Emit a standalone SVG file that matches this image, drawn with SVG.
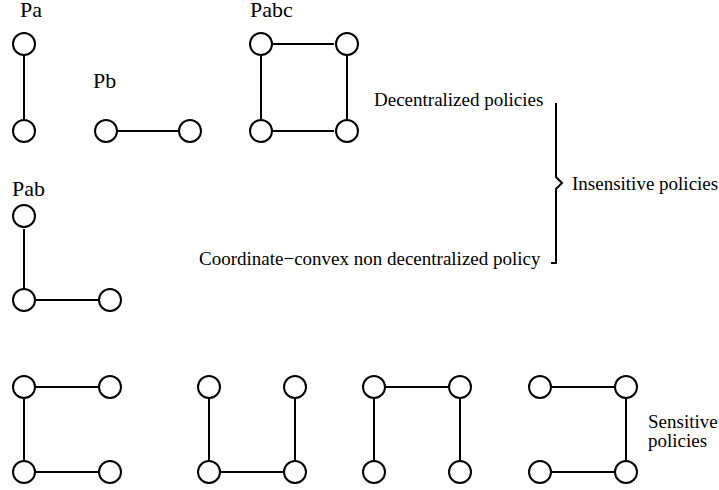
<svg xmlns="http://www.w3.org/2000/svg" width="719" height="490" viewBox="0 0 719 490">
<style>
.n{fill:#fff;stroke:#000;stroke-width:2}
.e{stroke:#000;stroke-width:2;fill:none}
text{font-family:"Liberation Serif","Times New Roman",serif;font-size:19px;fill:#000}
text.t{font-size:22px}
</style>
<rect width="719" height="490" fill="#fff"/>
<g id="connectors">
<line class="e" x1="24" y1="56" x2="24" y2="119"/>
<line class="e" x1="118" y1="131" x2="178" y2="131"/>
<line class="e" x1="273" y1="44" x2="334" y2="44"/>
<line class="e" x1="273" y1="131" x2="334" y2="131"/>
<line class="e" x1="261" y1="56" x2="261" y2="119"/>
<line class="e" x1="347" y1="56" x2="347" y2="119"/>
<line class="e" x1="24" y1="229" x2="24" y2="289"/>
<line class="e" x1="36" y1="300" x2="98" y2="300"/>
<line class="e" x1="36" y1="387" x2="98" y2="387"/>
<line class="e" x1="36" y1="472" x2="98" y2="472"/>
<line class="e" x1="24" y1="399" x2="24" y2="460"/>
<line class="e" x1="209" y1="399" x2="209" y2="460"/>
<line class="e" x1="295" y1="399" x2="295" y2="460"/>
<line class="e" x1="221" y1="472" x2="283" y2="472"/>
<line class="e" x1="386" y1="387" x2="448" y2="387"/>
<line class="e" x1="374" y1="399" x2="374" y2="460"/>
<line class="e" x1="460" y1="399" x2="460" y2="460"/>
<line class="e" x1="552" y1="387" x2="614" y2="387"/>
<line class="e" x1="552" y1="472" x2="614" y2="472"/>
<line class="e" x1="626" y1="399" x2="626" y2="460"/>
<path class="e" d="M556,103 L556,177 L562,183 L556,189 L556,263 L551,263" stroke-width="1.3"/>
</g>
<g id="Pa">
<text class="t" x="20" y="17">Pa</text>
<circle class="n" cx="24" cy="44" r="11"/>
<circle class="n" cx="24" cy="131" r="11"/>
</g>
<g id="Pb">
<text class="t" x="93" y="88">Pb</text>
<circle class="n" cx="106" cy="131" r="11"/>
<circle class="n" cx="190" cy="131" r="11"/>
</g>
<g id="Pabc">
<text class="t" x="250" y="17">Pabc</text>
<circle class="n" cx="261" cy="44" r="11"/>
<circle class="n" cx="347" cy="44" r="11"/>
<circle class="n" cx="261" cy="131" r="11"/>
<circle class="n" cx="347" cy="131" r="11"/>
</g>
<g id="Pab">
<text class="t" x="12" y="196">Pab</text>
<circle class="n" cx="24" cy="216" r="11"/>
<circle class="n" cx="24" cy="300" r="11"/>
<circle class="n" cx="110" cy="300" r="11"/>
</g>
<g id="S1">
<circle class="n" cx="24" cy="387" r="11"/>
<circle class="n" cx="110" cy="387" r="11"/>
<circle class="n" cx="24" cy="472" r="11"/>
<circle class="n" cx="110" cy="472" r="11"/>
</g>
<g id="S2">
<circle class="n" cx="209" cy="387" r="11"/>
<circle class="n" cx="295" cy="387" r="11"/>
<circle class="n" cx="209" cy="472" r="11"/>
<circle class="n" cx="295" cy="472" r="11"/>
</g>
<g id="S3">
<circle class="n" cx="374" cy="387" r="11"/>
<circle class="n" cx="460" cy="387" r="11"/>
<circle class="n" cx="374" cy="472" r="11"/>
<circle class="n" cx="460" cy="472" r="11"/>
</g>
<g id="S4">
<circle class="n" cx="540" cy="387" r="11"/>
<circle class="n" cx="626" cy="387" r="11"/>
<circle class="n" cx="540" cy="472" r="11"/>
<circle class="n" cx="626" cy="472" r="11"/>
</g>
<g id="labels">
<text x="374" y="106">Decentralized policies</text>
<text x="572" y="190">Insensitive policies</text>
<text x="199" y="265">Coordinate−convex non decentralized policy</text>
<text x="648" y="428">Sensitive</text>
<text x="648" y="447">policies</text>
</g>
</svg>
